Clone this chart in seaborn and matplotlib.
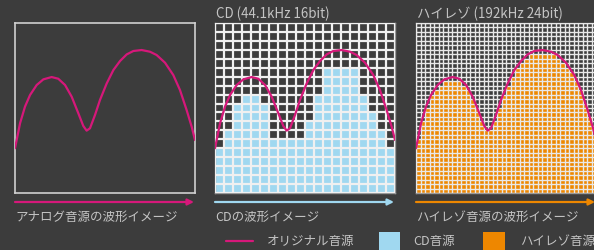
import numpy as np
import pandas as pd
import matplotlib
matplotlib.use("Agg")
import matplotlib.pyplot as plt
import seaborn as sns
from matplotlib.lines import Line2D
from matplotlib.patches import Rectangle

# ---------------- data ----------------
# original (analog) waveform, x in CD-column units (0..20), y in CD-row units (0..19)
curve_x = [0.0, 0.56, 1.11, 1.67, 2.41, 3.15, 4.07, 4.81, 5.56, 6.30, 7.04, 7.59,
           7.96, 8.33, 8.89, 9.44, 10.19, 10.93, 11.67, 12.41, 13.15, 14.07, 15.0,
           15.74, 16.67, 17.59, 18.33, 19.07, 19.63, 20.0]
curve_y = [5.0, 7.79, 9.65, 10.95, 12.07, 12.70, 12.96, 12.77, 12.07, 10.76, 8.90, 7.49,
           6.97, 7.23, 8.72, 10.39, 12.25, 13.74, 14.75, 15.49, 15.87, 15.98, 15.79,
           15.42, 14.56, 13.18, 11.51, 9.27, 7.41, 5.92]

# CD sample heights (in CD cells)
cd_levels = [5, 7, 10, 11, 11, 10, 6, 6, 6, 6, 8, 11, 14, 14, 14, 14, 11, 9, 7, 5]

# Hi-res sample heights (in half-cells)
hr_levels = [12, 16, 19, 22, 23, 24, 25, 25, 25, 25, 24, 23, 21, 19, 16, 14, 14, 16, 19, 22,
             24, 26, 28, 29, 30, 31, 31, 31, 31, 31, 31, 30, 29, 28, 27, 25, 23, 20, 17, 13]

titles = ["", "CD (44.1kHz 16bit)", "ハイレゾ (192kHz 24bit)"]
captions = ["アナログ音源の波形イメージ", "CDの波形イメージ", "ハイレゾ音源の波形イメージ"]
legend_labels = ["オリジナル音源", "CD音源", "ハイレゾ音源"]

# ---------------- style ----------------
BG = "#3c3c3c"
MAGENTA = "#d6187a"
BLUE = "#a0d8f0"
ORANGE = "#ee8700"
TXT = "#c4c4c4"

sns.set_theme(style="dark")
plt.rcParams["font.family"] = ["Noto Sans CJK JP", "DejaVu Sans"]

W, H = 594, 250
fig = plt.figure(figsize=(W / 100, H / 100), dpi=100, facecolor=BG)

def px_axes(x0, y_top, w, h):
    return fig.add_axes([x0 / W, 1 - (y_top + h) / H, w / W, h / H])

panel_x = [15, 215, 416]
axes = [px_axes(px, 23, 180, 170) for px in panel_x]

curve_df = pd.DataFrame({"x": curve_x, "y": curve_y})
cd_df = pd.DataFrame({"x": np.arange(len(cd_levels)) + 0.5, "h": cd_levels})
hr_df = pd.DataFrame({"x": (np.arange(len(hr_levels)) + 0.5) / 2,
                      "h": np.array(hr_levels) / 2})

for i, ax in enumerate(axes):
    ax.set_facecolor(BG)
    if i == 1:
        sns.barplot(data=cd_df, x="x", y="h", native_scale=True, width=1.0,
                    color=BLUE, saturation=1, edgecolor="none", linewidth=0, ax=ax)
        step, lw, gc = 1.0, 1.6, "#f0f0f0"
    elif i == 2:
        sns.barplot(data=hr_df, x="x", y="h", native_scale=True, width=1.0,
                    color=ORANGE, saturation=1, edgecolor="none", linewidth=0, ax=ax)
        step, lw, gc = 0.5, 1.0, "#e8e8e8"
    sns.lineplot(data=curve_df, x="x", y="y", sort=False, color=MAGENTA,
                 linewidth=1.6, ax=ax, zorder=5)
    ax.set_xlim(0, 20)
    ax.set_ylim(0, 19)
    ax.set_xlabel("")
    ax.set_ylabel("")
    ax.tick_params(length=0, labelbottom=False, labelleft=False)
    if i == 0:
        ax.set_xticks([])
        ax.set_yticks([])
        ax.grid(False)
        for s in ax.spines.values():
            s.set_visible(True)
            s.set_color("#d0d0d0")
            s.set_linewidth(1.2)
    else:
        ax.set_xticks(np.arange(0, 20.01, step))
        ax.set_yticks(np.arange(0, 19.01, step))
        ax.set_axisbelow(False)
        ax.grid(True, color=gc, linewidth=lw)
        for s in ax.spines.values():
            s.set_visible(True)
            s.set_color("#9a9a9a")
            s.set_linewidth(1.0)

# titles
for px, t in zip(panel_x, titles):
    if t:
        fig.text((px + 1) / W, 1 - 14 / H, t, color=TXT, fontsize=9.6,
                 ha="left", va="center")

# arrows and captions
arrow_cols = [MAGENTA, BLUE, ORANGE]
for px, col, cap in zip(panel_x, arrow_cols, captions):
    fig.add_artist(matplotlib.patches.FancyArrowPatch(
        (px / W, 1 - 202 / H), ((px + 179) / W, 1 - 202 / H),
        transform=fig.transFigure, arrowstyle="-|>", mutation_scale=9,
        color=col, linewidth=1.6, shrinkA=0, shrinkB=0))
    fig.text(px / W, 1 - 217 / H, cap, color=TXT, fontsize=9,
             ha="left", va="center")

# legend
ly = 1 - 241 / H
fig.add_artist(Line2D([226 / W, 253 / W], [ly, ly], transform=fig.transFigure,
                      color=MAGENTA, linewidth=1.6))
fig.text(267 / W, ly, legend_labels[0], color=TXT, fontsize=9, ha="left", va="center")
fig.add_artist(Rectangle((379 / W, 0), 21 / W, 18 / H, transform=fig.transFigure,
                         facecolor=BLUE, edgecolor="none"))
fig.text(413 / W, ly, legend_labels[1], color=TXT, fontsize=9, ha="left", va="center")
fig.add_artist(Rectangle((483 / W, 0), 22 / W, 18 / H, transform=fig.transFigure,
                         facecolor=ORANGE, edgecolor="none"))
fig.text(520 / W, ly, legend_labels[2], color=TXT, fontsize=9, ha="left", va="center")

fig.savefig("out.png", dpi=100, facecolor=BG)
